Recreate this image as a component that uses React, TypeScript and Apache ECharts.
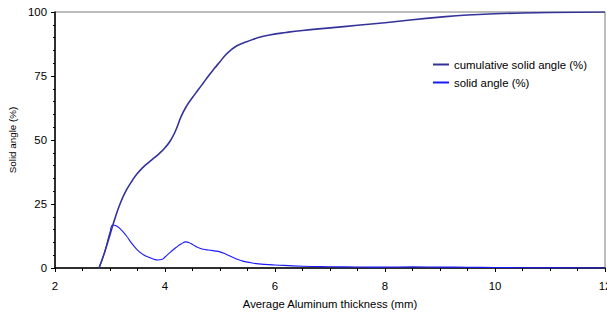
import React, { useEffect, useRef } from "react";
import * as echarts from "echarts";

const cumX = [2.8, 2.9, 3.0, 3.1, 3.2, 3.3, 3.4, 3.5, 3.6, 3.7, 3.8, 3.9, 4.0, 4.1, 4.2, 4.3, 4.4, 4.5, 4.6, 4.7, 4.8, 4.9, 5.0, 5.1, 5.2, 5.3, 5.4, 5.5, 5.7, 5.9, 6.2, 6.5, 7.0, 7.5, 8.0, 8.5, 9.0, 9.5, 10.0, 10.5, 11.0, 12.0];
const cumY = [0, 6, 13, 20, 26, 30.5, 34, 37, 39.3, 41.2, 43, 44.8, 47, 49.8, 54, 59.5, 63.5, 66.6, 69.5, 72.4, 75.3, 78, 80.6, 83.2, 85.2, 86.7, 87.7, 88.5, 90, 91, 92, 92.8, 93.8, 94.8, 95.8, 97, 98, 98.8, 99.3, 99.6, 99.8, 100];

const solX = [2.8, 2.9, 3.0, 3.05, 3.1, 3.2, 3.3, 3.4, 3.5, 3.6, 3.7, 3.8, 3.87, 3.95, 4.0, 4.1, 4.2, 4.3, 4.38, 4.45, 4.5, 4.6, 4.7, 4.8, 4.9, 5.0, 5.1, 5.2, 5.3, 5.4, 5.5, 5.7, 6.0, 6.5, 7.0, 7.5, 8.0, 8.5, 9.0, 9.5, 10.0, 10.5, 11.0, 12.0];
const solY = [0, 6, 14, 16.8, 16.6, 15, 12.5, 9.5, 7, 5.3, 4.2, 3.4, 3.1, 3.4, 4.3, 6.2, 8, 9.5, 10.2, 9.8, 9.2, 8, 7.3, 7, 6.7, 6.3, 5.5, 4.5, 3.5, 2.8, 2.3, 1.6, 1.2, 0.7, 0.5, 0.4, 0.35, 0.45, 0.35, 0.3, 0.2, 0.1, 0.05, 0];

const seriesNames = ["cumulative solid angle (%)", "solid angle (%)"];
const xTitle = "Average Aluminum thickness (mm)";
const yTitle = "Solid angle (%)";

export default function App() {
  const ref = useRef<HTMLDivElement>(null);
  useEffect(() => {
    if (!ref.current) return;
    const chart = echarts.init(ref.current, null, { renderer: "svg" });
    const font = "'Liberation Sans', Arial, sans-serif";
    chart.setOption({
      animation: false,
      textStyle: { fontFamily: font },
      grid: {
        left: 55,
        right: 2,
        top: 12,
        bottom: 48,
        containLabel: false,
        outerBoundsMode: "none",
        show: true,
        borderColor: "#7a7a7a",
        borderWidth: 1,
      },
      legend: {
        left: 428,
        top: 54,
        orient: "vertical",
        itemWidth: 16,
        itemHeight: 2,
        itemGap: 7,
        icon: "rect",
        textStyle: { fontFamily: font, fontSize: 11.4, color: "#000" },
        data: seriesNames,
      },
      xAxis: {
        type: "value",
        min: 2,
        max: 12,
        interval: 2,
        name: xTitle,
        nameLocation: "middle",
        nameGap: 30,
        nameTextStyle: { fontFamily: font, fontSize: 11.3, color: "#000" },
        axisLine: { show: true, onZero: false, lineStyle: { color: "#000", width: 1.5 } },
        axisTick: { show: true, length: 4, lineStyle: { color: "#000" } },
        minorTick: { show: true, splitNumber: 4, length: 3, lineStyle: { color: "#000" } },
        axisLabel: { fontFamily: font, fontSize: 11.4, color: "#000", margin: 12 },
        splitLine: { show: false },
      },
      yAxis: {
        type: "value",
        min: 0,
        max: 100,
        interval: 25,
        name: yTitle,
        nameLocation: "middle",
        nameGap: 37,
        nameTextStyle: { fontFamily: font, fontSize: 9.8, color: "#000" },
        axisLine: { show: true, lineStyle: { color: "#000", width: 1.5 } },
        axisTick: { show: true, length: 4, lineStyle: { color: "#000" } },
        minorTick: { show: true, splitNumber: 5, length: 2, lineStyle: { color: "#000" } },
        axisLabel: { fontFamily: font, fontSize: 11.4, color: "#000", margin: 8 },
        splitLine: { show: false },
      },
      series: [
        {
          name: seriesNames[0],
          type: "line",
          data: cumX.map((x, i) => [x, cumY[i]]),
          showSymbol: false,
          symbol: "none",
          smooth: 0.5,
          color: "#333399",
          lineStyle: { color: "#333399", width: 1.6 },
          z: 3,
        },
        {
          name: seriesNames[1],
          type: "line",
          data: solX.map((x, i) => [x, solY[i]]),
          showSymbol: false,
          symbol: "none",
          smooth: 0.5,
          color: "#1a1aff",
          lineStyle: { color: "#1a1aff", width: 1.1 },
          z: 2,
        },
      ],
    });
    return () => chart.dispose();
  }, []);
  return <div ref={ref} style={{ width: 607, height: 316, position: "absolute", left: 0, top: 0 }} />;
}
